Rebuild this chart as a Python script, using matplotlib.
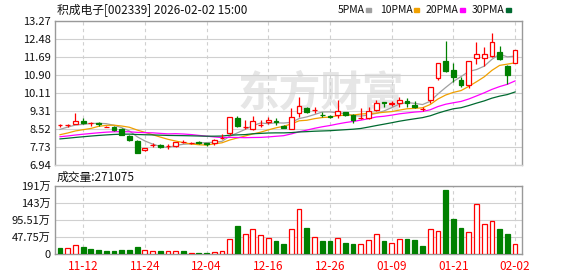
import matplotlib
matplotlib.use("Agg")
import matplotlib.pyplot as plt
from matplotlib.patches import Rectangle
import numpy as np
import pandas as pd

plt.rcParams['font.family'] = ['Noto Sans CJK SC', 'DejaVu Sans']

title = "积成电子[002339] 2026-02-02 15:00"

# daily OHLC, 60 sessions (2025-11-07 .. 2026-02-02)
opens = [8.70, 8.70, 8.77, 8.89, 8.79, 8.80, 8.64, 8.64, 8.52, 8.23,
         8.01, 7.60, 7.82, 7.82, 7.79, 7.80, 7.95, 7.92, 7.96, 7.91,
         7.91, 8.15, 8.35, 9.01, 8.62, 8.54, 8.72, 8.83, 8.89, 8.65,
         8.55, 9.25, 9.45, 9.36, 9.16, 9.10, 9.15, 9.27, 9.16, 9.00,
         9.03, 9.36, 9.72, 9.65, 9.67, 9.75, 9.59, 9.42, 9.82, 10.79,
         11.51, 11.13, 10.69, 10.46, 11.64, 11.64, 11.73, 11.91, 11.31, 11.44]
highs = [8.75, 8.77, 9.23, 9.01, 8.83, 8.84, 8.68, 8.67, 8.58, 8.29,
         8.05, 7.72, 7.92, 7.89, 7.88, 7.98, 8.05, 7.98, 8.02, 7.92,
         8.10, 8.30, 9.06, 9.09, 8.94, 9.09, 8.94, 9.08, 9.02, 8.71,
         9.45, 9.96, 9.50, 9.50, 9.27, 9.15, 9.82, 9.30, 9.18, 9.47,
         9.49, 9.80, 9.74, 9.77, 9.93, 9.89, 9.75, 9.49, 10.37, 11.43,
         12.40, 11.44, 10.84, 11.51, 12.36, 12.13, 12.74, 12.18, 11.36, 12.00]
lows = [8.61, 8.61, 8.75, 8.74, 8.67, 8.67, 8.61, 8.46, 8.26, 8.02,
        7.49, 7.57, 7.74, 7.69, 7.66, 7.74, 7.91, 7.89, 7.89, 7.79,
        7.83, 8.08, 8.27, 8.61, 8.54, 8.49, 8.62, 8.74, 8.70, 8.58,
        8.55, 9.08, 9.25, 9.24, 9.08, 9.03, 9.03, 9.12, 8.81, 8.96,
        8.98, 9.34, 9.49, 9.55, 9.50, 9.49, 9.46, 9.33, 9.68, 10.69,
        11.04, 10.60, 10.40, 10.33, 11.41, 11.31, 11.69, 11.57, 10.51, 11.44]
closes = [8.70, 8.72, 8.87, 8.81, 8.79, 8.74, 8.64, 8.51, 8.29, 8.05,
          7.49, 7.71, 7.83, 7.76, 7.80, 7.98, 7.95, 7.93, 7.94, 7.89,
          8.05, 8.16, 9.06, 8.67, 8.64, 8.89, 8.73, 8.93, 8.85, 8.59,
          9.05, 9.55, 9.30, 9.37, 9.14, 9.08, 9.33, 9.15, 8.93, 9.02,
          9.33, 9.68, 9.68, 9.66, 9.80, 9.67, 9.50, 9.42, 10.37, 11.42,
          11.09, 10.84, 10.48, 11.51, 11.82, 11.83, 12.35, 11.61, 10.92, 12.00]
# closes before the window, estimated so the moving averages start where shown
prior_closes = [7.80, 7.85, 7.90, 7.88, 7.92, 7.95, 7.90, 7.93, 7.98, 7.99,
                8.02, 8.05, 8.10, 8.15, 8.12, 8.10, 8.15, 8.20, 8.14, 8.02,
                7.97, 7.97, 8.25, 8.25, 7.81, 8.22, 8.42, 8.66, 8.60]
# volume in 万 (10k lots)
volumes = [16, 18, 26, 19, 13, 10, 8, 8, 10, 10,
           19, 12, 7, 8, 9, 7, 8, 4, 4, 4,
           6, 9, 43, 78, 57, 71, 54, 46, 36, 27,
           70, 127, 74, 48, 37, 35, 45, 32, 29, 28,
           39, 56, 37, 31, 42, 43, 40, 21, 70, 65,
           178, 99, 74, 62, 141, 84, 93, 71, 57, 27.1075]
last_volume = 271075

price_ticks = [6.94, 7.73, 8.52, 9.31, 10.11, 10.90, 11.69, 12.48, 13.27]
vol_ticks = [0, 47.755, 95.51, 143.265, 191.02]
vol_tick_labels = ["0", "47.75万", "95.51万", "143万", "191万"]
date_labels = ["11-12", "11-24", "12-04", "12-16", "12-26", "01-09", "01-21", "02-02"]
date_idx = [3, 11, 19, 27, 35, 43, 51, 59]
ma_windows = [5, 10, 20, 30]
ma_names = ["5PMA", "10PMA", "20PMA", "30PMA"]
ma_colors = ["#a0a0a0", "#f0a000", "#ff00ff", "#006a30"]

RED = "#ff0000"
GREEN = "#008000"
FRAME = "#999999"
GRID = "#d0d0d0"

o = np.array(opens)
h = np.array(highs)
l = np.array(lows)
c = np.array(closes)
x = np.arange(len(c))
prev = np.concatenate([[c[0] + 1], c[:-1]])
up = c >= o
vol_up = (c > o) | ((c == o) & (c >= prev))

W, H = 578, 276
fig = plt.figure(figsize=(W / 100, H / 100), dpi=100)
ax = fig.add_axes([55 / W, 1 - 165.3 / H, 467 / W, 144 / H])
axv = fig.add_axes([55 / W, 1 - 254 / H, 467 / W, 68.3 / H])

for a in (ax, axv):
    a.set_xlim(-0.65, 59.9)
    for s in a.spines.values():
        s.set_color(FRAME)
        s.set_linewidth(1)
    a.tick_params(length=0, labelsize=8, colors="#111111", pad=3)
    a.set_xticks(date_idx)
    a.grid(axis="x", color=GRID, linestyle=(0, (3, 3)), linewidth=0.8)
    a.grid(axis="y", color=GRID, linestyle="-", linewidth=0.8)
    a.set_axisbelow(True)

# watermark
ax.text(0.39, 0.50, "东方财富", transform=ax.transAxes, fontsize=30,
        fontweight="bold", color="#e6e6e6", ha="left", va="center", zorder=0)

ax.set_ylim(6.94, 13.27)
ax.set_yticks(price_ticks)
ax.set_yticklabels([f"{t:.2f}" for t in price_ticks])
ax.tick_params(axis="x", labelbottom=False)
ax.spines["bottom"].set_color(GRID)

# moving averages
full = pd.Series(prior_closes + closes)
for w, col in zip(ma_windows, ma_colors):
    ma = full.rolling(w).mean().to_numpy()[-len(c):]
    ax.plot(x, ma, color=col, linewidth=0.9, zorder=2)

# candles
bw = 0.62
for i in x:
    col = RED if up[i] else GREEN
    lo_b, hi_b = min(o[i], c[i]), max(o[i], c[i])
    ax.vlines(i, l[i], lo_b, color=col, linewidth=0.9, zorder=3)
    ax.vlines(i, hi_b, h[i], color=col, linewidth=0.9, zorder=3)
    ax.bar(i, max(hi_b - lo_b, 0.005), bottom=lo_b, width=bw,
           facecolor="white" if up[i] else GREEN, edgecolor=col,
           linewidth=0.9, zorder=4)

# volume
vcols = [RED if u else GREEN for u in vol_up]
axv.bar(x, volumes, width=bw, facecolor=["white" if u else GREEN for u in vol_up],
        edgecolor=vcols, linewidth=0.9, zorder=3)
axv.set_ylim(0, 191.02)
axv.set_yticks(vol_ticks)
axv.set_yticklabels(vol_tick_labels)
axv.set_xticklabels(date_labels, color=RED, fontsize=8.5)
axv.tick_params(axis="x", pad=4)

fig.text(57 / W, 1 - 10 / H, title, fontsize=8.5, ha="left", va="center", color="#111111")
fig.text(57 / W, 1 - 177 / H, f"成交量:{last_volume}", fontsize=8.5, ha="left",
         va="center", color="#111111")

# legend at top right
lx = [338, 380, 426, 472]
for name, col, px in zip(ma_names, ma_colors, lx):
    fig.text(px / W, 1 - 10 / H, name, fontsize=7.5, ha="left", va="center",
             color="#111111")
    tw = {4: 25, 5: 31}[len(name)]
    fig.patches.append(Rectangle(((px + tw + 3) / W, 1 - 12 / H), 5 / W, 4 / H,
                                 transform=fig.transFigure, color=col))

fig.savefig("out.png", dpi=100)
